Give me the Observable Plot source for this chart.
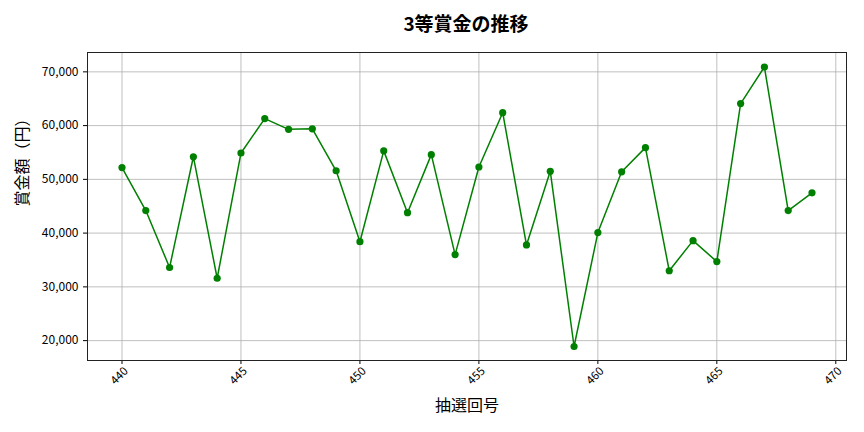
<!DOCTYPE html>
<html>
<head>
<meta charset="utf-8">
<script src="https://cdn.jsdelivr.net/npm/d3@7"></script>
<script src="https://cdn.jsdelivr.net/npm/@observablehq/plot@0.6"></script>
<style>
  html, body { margin: 0; padding: 0; background: #fff; }
  #wrap { width: 864px; height: 432px; position: relative; font-family: "Noto Sans CJK JP", sans-serif; }
  #title { height: 44px; width: 864px; box-sizing: border-box; padding-left: 86px; padding-right: 18px; text-align: center; font-size: 19px; font-weight: bold; line-height: 46px; color: #000; }
  svg { display: block; }
</style>
</head>
<body>
<div id="wrap">
  <div id="title">3等賞金の推移</div>
  <div id="chart"></div>
</div>
<script>
const draws = [440,441,442,443,444,445,446,447,448,449,450,451,452,453,454,455,456,457,458,459,460,461,462,463,464,465,466,467,468,469];
const prizes = [52200,44200,33600,54200,31600,54900,61300,59300,59400,51600,38400,55300,43800,54600,36000,52300,62400,37800,51500,18900,40100,51400,55900,33000,38600,34700,64100,70900,44200,47500];
const xTicks = [440,445,450,455,460,465,470];
const yTicks = [20000,30000,40000,50000,60000,70000];

const data = draws.map((d, i) => ({draw: d, prize: prizes[i]}));
const fmt = d3.format(",");

const chart = Plot.plot({
  width: 864,
  height: 388,
  marginTop: 8,
  marginBottom: 72,
  marginLeft: 87,
  marginRight: 18,
  style: {fontFamily: "'Noto Sans CJK JP', sans-serif", fontSize: "12px", color: "#000", background: "#fff"},
  x: {domain: [438.55, 470.45], label: null},
  y: {domain: [16300, 73600], label: null},
  marks: [
    Plot.gridX(xTicks, {stroke: "#b0b0b0", strokeOpacity: 1, strokeWidth: 0.8}),
    Plot.gridY(yTicks, {stroke: "#b0b0b0", strokeOpacity: 1, strokeWidth: 0.8}),
    Plot.axisX({ticks: xTicks, tickFormat: () => "", label: null, tickSize: 4}),
    Plot.text(xTicks, {x: d => d, frameAnchor: "bottom", dy: 18, rotate: -45, textAnchor: "middle", text: d => String(d), fontSize: 11.5, fill: "#000"}),
    Plot.axisY({ticks: yTicks, tickFormat: fmt, label: null, tickSize: 4, fontSize: 12}),
    Plot.line(data, {x: "draw", y: "prize", stroke: "#008000", strokeWidth: 1.5}),
    Plot.dot(data, {x: "draw", y: "prize", fill: "#008000", r: 3.6}),
    Plot.frame({stroke: "#222", strokeWidth: 1}),
    Plot.text(["抽選回号"], {frameAnchor: "bottom", dy: 50, fontSize: 16, fill: "#000"}),
    Plot.text(["賞金額（円）"], {frameAnchor: "left", dx: -65, rotate: -90, fontSize: 16, fill: "#000"})
  ]
});
document.getElementById("chart").appendChild(chart);
</script>
</body>
</html>
